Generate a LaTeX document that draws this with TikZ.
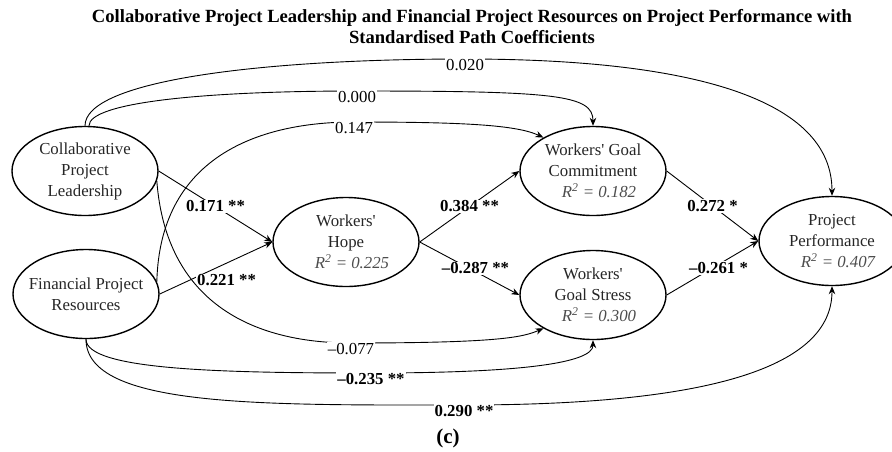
\documentclass[tikz,border=0pt]{standalone}
\usepackage{fontspec}
\setmainfont{Liberation Serif}
\usetikzlibrary{shapes.geometric,arrows.meta}
\definecolor{ink}{HTML}{000000}
\definecolor{name}{HTML}{262626}
\definecolor{rsqc}{HTML}{4D4D4D}
\newcommand\rsq[1]{\hspace*{12pt}{\color{rsqc}\itshape R\textsuperscript{2} = #1}}
\tikzset{
  lat/.style={ellipse, draw=ink, line width=1.4pt, minimum width=146pt, minimum height=89pt,
    inner xsep=-6pt, inner ysep=0pt, align=center, text=name, font=\fontsize{16.8}{21}\selectfont},
  arr/.style={draw=ink, line width=0.9pt, -{Stealth[length=8pt,width=6.5pt]}},
  coef/.style={fill=white, inner sep=1pt, text=ink, font=\fontsize{16.8}{20}\selectfont},
  coefb/.style={coef, font=\fontsize{16.8}{20}\selectfont\bfseries},
  onarc/.style={anchor=north, yshift=1.5pt},
}

\begin{document}
\begin{tikzpicture}[x=1pt, y=-1pt]
  \useasboundingbox (0,0) rectangle (892,451);
  \node[font=\fontsize{18.6}{21}\selectfont\bfseries, align=center, anchor=north, inner sep=0pt] (title) at (472,9)
    {Collaborative Project Leadership and Financial Project Resources on Project Performance with\\Standardised Path Coefficients};
  % constructs
  \node[lat] (cpl) at (85,171) {Collaborative\\Project\\Leadership};
  \node[lat] (fpr) at (86,294) {Financial Project\\Resources};
  \node[lat] (hope) at (346,242) {Workers\textquotesingle\\Hope\\\rsq{0.225}};
  \node[lat] (wgc) at (593,171) {Workers\textquotesingle{} Goal\\Commitment\\\rsq{0.182}};
  \node[lat] (wgs) at (593,295) {Workers\textquotesingle\\Goal Stress\\\rsq{0.300}};
  \node[lat] (pp) at (832,241) {Project\\Performance\\\rsq{0.407}};
  % direct paths
  \draw[arr] (cpl.east) -- node[coefb] {0.171 **} (hope.west);
  \draw[arr] (fpr.east) -- node[coefb, pos=0.32, anchor=north west, yshift=4pt] {0.221 **} (hope.west);
  \draw[arr] (hope.east) -- node[coefb] {0.384 **} (wgc.west);
  \draw[arr] (hope.east) -- node[coefb, xshift=6pt] {--0.287 **} (wgs.west);
  \draw[arr] (wgc.east) -- node[coefb] {0.272 *} (pp.west);
  \draw[arr] (wgs.east) -- node[coefb, xshift=6pt] {--0.261 *} (pp.west);
  % curved paths
  \draw[arr] (cpl.north) .. controls (85,80) and (265,59) .. (465,59) node[coef, onarc] {0.020}
    .. controls (695,59) and (832,100) .. (pp.north);
  \draw[arr] (cpl.85) .. controls (89,102) and (207,91) .. (357,91) node[coef, onarc] {0.000}
    .. controls (557,91) and (593,95) .. (wgc.north);
  \draw[arr] (fpr.10) .. controls (160,160) and (254,122) .. (354,122) node[coef, onarc] {0.147}
    .. controls (464,122) and (517,125) .. (wgc.146);
  \draw[arr] (cpl.352) .. controls (166,301) and (251,343) .. (351,343) node[coef, onarc] {--0.077}
    .. controls (501,343) and (523,337) .. (wgs.214);
  \draw[arr] (fpr.south) .. controls (86,370) and (221,373) .. (371,373) node[coefb, onarc] {--0.235 **}
    .. controls (521,373) and (593,363) .. (wgs.south);
  \draw[arr] (fpr.south) .. controls (86,408) and (264,405) .. (464,405) node[coefb, onarc] {0.290 **}
    .. controls (714,405) and (832,366) .. (pp.south);
  \node[font=\fontsize{21}{24}\selectfont\bfseries] (tag) at (448,438) {(c)};
\end{tikzpicture}
\end{document}
